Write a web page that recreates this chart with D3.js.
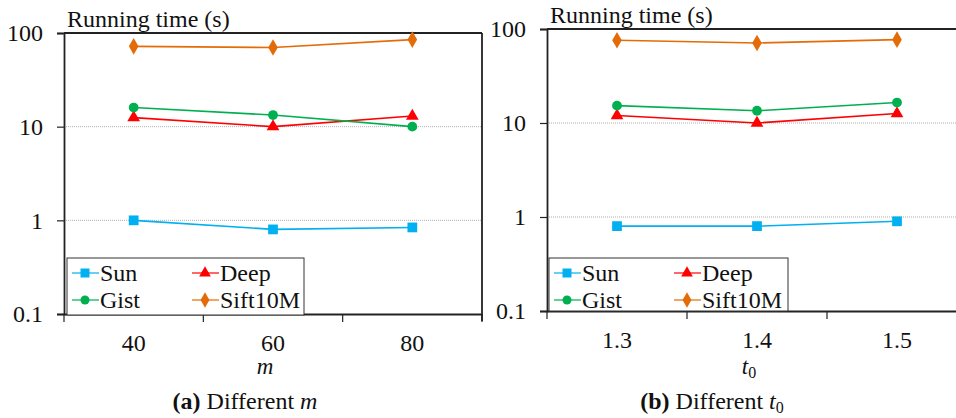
<!DOCTYPE html>
<html>
<head>
<meta charset="utf-8">
<script src="https://cdn.jsdelivr.net/npm/d3@7"></script>
</head>
<body style="margin:0">
<svg id="fig" width="956" height="418" style="display:block"></svg>
<script>
// categories
var mValues = ['40', '60', '80']
var t0Values = ['1.3', '1.4', '1.5']
var seriesNames = ['Sun', 'Deep', 'Gist', 'Sift10M']
var seriesColors = ['#00b0f0', '#ff0000', '#00b050', '#e36c09']

// running time (s), panel (a) different m
var sunM = [1.0, 0.80, 0.84]
var deepM = [12.5, 10.0, 13.0]
var gistM = [16.0, 13.3, 10.0]
var siftM = [72, 70, 85]

// running time (s), panel (b) different t0
var sunT = [0.80, 0.80, 0.90]
var deepT = [12.0, 10.0, 12.6]
var gistT = [15.3, 13.5, 16.5]
var siftT = [76, 71, 77]

var yTicks = [0.1, 1, 10, 100]
var yTickLabels = ['0.1', '1', '10', '100']
var gridTicks = [1, 10]

var serifFont = 'Liberation Serif'

var svg = d3.select('#fig')

var symbols = [d3.symbolSquare, d3.symbolTriangle, d3.symbolCircle, d3.symbolDiamond]
var symSizes = [95, 70, 75, 80]

// apply the serif font to a text selection
function serif(sel, size) {
    sel.attr('font-family', serifFont)
       .style('font-family', '"' + serifFont + '"', 'important')
       .style('font-size', (size || 24) + 'px')
       .attr('fill', '#111')
    return sel
}

function drawPanel(opt) {
    var x = d3.scaleBand()
        .domain(opt.cats)
        .range([opt.left, opt.right])
        .paddingInner(0).paddingOuter(0)
    var y = d3.scaleLog()
        .domain([0.1, 100])
        .range([opt.bottom, opt.top])

    var g = svg.append('g')

    // dotted grid lines
    g.selectAll('line.grid')
        .data(gridTicks)
        .enter()
        .append('line')
        .attr('x1', opt.left).attr('x2', opt.right)
        .attr('y1', function(d){ return y(d) })
        .attr('y2', function(d){ return y(d) })
        .attr('stroke', '#b0b0b0')
        .attr('stroke-width', 1)
        .attr('stroke-dasharray', '1,1')

    // frame top (and right when visible)
    g.append('line')
        .attr('x1', opt.left).attr('x2', opt.right)
        .attr('y1', y(100)).attr('y2', y(100))
        .attr('stroke', '#222').attr('stroke-width', 1.8)
    if (opt.rightFrame) {
        g.append('line')
            .attr('x1', opt.right).attr('x2', opt.right)
            .attr('y1', y(100)).attr('y2', y(0.1) + 7)
            .attr('stroke', '#222').attr('stroke-width', 1.8)
    }

    // y axis
    var yAxis = d3.axisLeft(y)
        .tickValues(yTicks)
        .tickFormat(function(d, i){ return yTickLabels[i] })
        .tickSize(7)
        .tickPadding(14)
    var ya = g.append('g')
        .attr('transform', 'translate(' + opt.left + ',0)')
        .call(yAxis)
    ya.attr('font-family', serifFont).attr('font-size', 24)
    ya.select('.domain').attr('stroke', '#222').attr('stroke-width', 1.8)
    ya.selectAll('.tick line').attr('stroke', '#222').attr('stroke-width', 1.2)
    serif(ya.selectAll('.tick text'))

    // x axis: labels centred in bands, ticks at band edges
    var xAxis = d3.axisBottom(x).tickSize(0).tickPadding(20)
    var xa = g.append('g')
        .attr('transform', 'translate(0,' + opt.bottom + ')')
        .call(xAxis)
    xa.attr('font-family', serifFont).attr('font-size', 24)
    xa.select('.domain').attr('stroke', '#222').attr('stroke-width', 1.8)
    serif(xa.selectAll('.tick text'))
    var edges = opt.cats.map(function(c){ return x(c) }).concat([x.range()[1]])
    g.selectAll('line.xt')
        .data(edges)
        .enter()
        .append('line')
        .attr('x1', function(d){ return d }).attr('x2', function(d){ return d })
        .attr('y1', opt.bottom).attr('y2', opt.bottom + 8)
        .attr('stroke', '#222').attr('stroke-width', 1.2)

    // title
    serif(g.append('text'))
        .attr('x', opt.left + 3)
        .attr('y', y(100) - 6)
        .text('Running time (s)')

    // series
    var line = d3.line()
        .x(function(d, i){ return x(opt.cats[i]) + x.bandwidth() / 2 })
        .y(function(d){ return y(d) })
    opt.series.forEach(function(vals, k) {
        g.append('path')
            .attr('d', line(vals))
            .attr('fill', 'none')
            .attr('stroke', seriesColors[k])
            .attr('stroke-width', 1.6)
        g.selectAll('path.mk' + k)
            .data(vals)
            .enter()
            .append('path')
            .attr('d', d3.symbol().type(symbols[k]).size(symSizes[k]))
            .attr('transform', function(d, i){
                return 'translate(' + (x(opt.cats[i]) + x.bandwidth() / 2) + ',' + y(d) + ')'
            })
            .attr('fill', seriesColors[k])
    })

    // legend
    var lg = g.append('g').attr('transform', 'translate(' + opt.legX + ',' + opt.legY + ')')
    lg.append('rect')
        .attr('width', opt.legW).attr('height', opt.legH)
        .attr('fill', '#fff').attr('stroke', '#333').attr('stroke-width', 1)
    seriesNames.forEach(function(name, k) {
        var col = k % 2, row = Math.floor(k / 2)
        var ix = 5 + col * 120, iy = 15 + row * 27
        lg.append('line')
            .attr('x1', ix).attr('x2', ix + 27)
            .attr('y1', iy).attr('y2', iy)
            .attr('stroke', seriesColors[k]).attr('stroke-width', 1.6).attr('opacity', 0.75)
        lg.append('path')
            .attr('d', d3.symbol().type(symbols[k]).size(symSizes[k] * 0.85))
            .attr('transform', 'translate(' + (ix + 13) + ',' + iy + ')')
            .attr('fill', seriesColors[k])
        serif(lg.append('text'))
            .attr('x', ix + 28).attr('y', iy + 8)
            .text(name)
    })

    // axis title
    var at = serif(g.append('text'), 23)
        .attr('x', (opt.left + opt.right) / 2 - 8)
        .attr('y', 374)
        .attr('text-anchor', 'middle')
        .style('font-style', 'italic')
        .text(opt.axisVar)
    if (opt.axisSub) {
        at.append('tspan').attr('dy', 4).style('font-size', '16px').style('font-style', 'normal').text(opt.axisSub)
    }

    // caption
    var cap = serif(g.append('text'))
        .attr('x', opt.capX)
        .attr('y', 409)
        .attr('text-anchor', 'middle')
    cap.append('tspan').style('font-weight', 'bold').text(opt.capTag)
    cap.append('tspan').text(' Different ')
    cap.append('tspan').style('font-style', 'italic').text(opt.axisVar)
    if (opt.axisSub) {
        cap.append('tspan').attr('dy', 4).style('font-size', '16px').text(opt.axisSub)
    }
}

drawPanel({
    cats: mValues, left: 64, right: 482, top: 33, bottom: 314,
    rightFrame: true,
    series: [sunM, deepM, gistM, siftM],
    legX: 67, legY: 258, legW: 237, legH: 57,
    axisVar: 'm', axisSub: null,
    capX: 245, capTag: '(a)'
})

drawPanel({
    cats: t0Values, left: 547, right: 967, top: 29, bottom: 311,
    rightFrame: false,
    series: [sunT, deepT, gistT, siftT],
    legX: 549, legY: 258, legW: 239, legH: 53,
    axisVar: 't', axisSub: '0',
    capX: 712, capTag: '(b)'
})
</script>
</body>
</html>
